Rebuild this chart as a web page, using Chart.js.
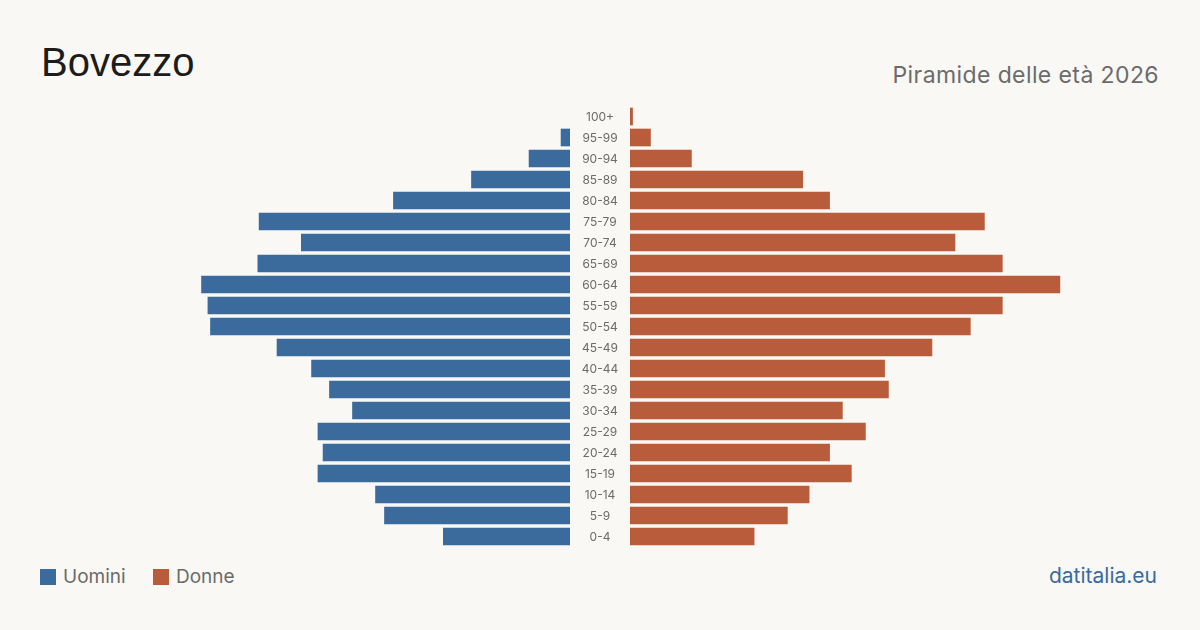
<!DOCTYPE html>
<html>
<head>
<meta charset="utf-8">
<script src="https://cdn.jsdelivr.net/npm/chart.js@4"></script>
<style>
  html, body { margin: 0; padding: 0; }
  body { width: 1200px; height: 630px; background: #f9f8f4; position: relative; overflow: hidden; font-family: Inter, sans-serif; }
  #title { position: absolute; left: 41px; top: 40px; font-size: 40px; color: #1c1c1c; font-family: "Liberation Sans", Arial, sans-serif; }
  #subtitle { position: absolute; right: 41px; top: 61px; font-size: 23px; color: #6b6b6b; letter-spacing: 0.4px; }
  #boxL { position: absolute; left: 135px; top: 106px; width: 435px; height: 441px; }
  #boxR { position: absolute; left: 570px; top: 106px; width: 495px; height: 441px; }
  .legend { position: absolute; top: 565px; font-size: 19px; color: #6b6b6b; }
  .sw { display: inline-block; width: 16px; height: 16px; vertical-align: -2px; margin-right: 7px; }
  #brand { position: absolute; right: 43px; top: 563px; font-size: 21px; color: #3a6b9c; }
</style>
</head>
<body>
<div id="title">Bovezzo</div>
<div id="subtitle">Piramide delle età 2026</div>
<div id="boxL"><canvas id="leftChart"></canvas></div>
<div id="boxR"><canvas id="rightChart"></canvas></div>
<div class="legend" style="left:40px"><span class="sw" style="background:#3a6b9c"></span>Uomini</div>
<div class="legend" style="left:153px"><span class="sw" style="background:#b95c3b"></span>Donne</div>
<div id="brand">datitalia.eu</div>
<script>
const ageGroups = ["100+", "95-99", "90-94", "85-89", "80-84", "75-79", "70-74", "65-69", "60-64", "55-59",
  "50-54", "45-49", "40-44", "35-39", "30-34", "25-29", "20-24", "15-19", "10-14", "5-9", "0-4"];
const uomini = [0, 7, 32, 77, 138, 243, 210, 244, 288, 283, 281, 229, 202, 188, 170, 197, 193, 197, 152, 145, 99];
const donne = [2, 16, 48, 135, 156, 277, 254, 291, 336, 291, 266, 236, 199, 202, 166, 184, 156, 173, 140, 123, 97];
const maxValue = 340;

const blue = "#3a6b9c";
const orange = "#b95c3b";

function baseOptions(reverse) {
  return {
    indexAxis: "y",
    responsive: true,
    maintainAspectRatio: false,
    animation: false,
    layout: { padding: 0 },
    plugins: { legend: { display: false }, tooltip: { enabled: false } },
    scales: {
      x: { min: 0, max: maxValue, reverse: reverse, display: false },
      y: { display: false }
    }
  };
}

// hide empty bars so no hairline shows at the baseline
function barColor(color) {
  return (ctx) => (ctx.raw ? color : "rgba(0,0,0,0)");
}

// draws the age labels centred in the gap left of the women's bars
const ageLabels = {
  id: "ageLabels",
  afterDraw(chart) {
    const { ctx, scales } = chart;
    ctx.save();
    ctx.fillStyle = "#6b6b6b";
    ctx.font = "12px Inter";
    ctx.textAlign = "center";
    ctx.textBaseline = "middle";
    ageGroups.forEach((label, i) => {
      ctx.fillText(label, 30, scales.y.getPixelForValue(i) + 0.5);
    });
    ctx.restore();
  }
};

new Chart(document.getElementById("leftChart"), {
  type: "bar",
  data: {
    labels: ageGroups,
    datasets: [{ label: "Uomini", data: uomini, backgroundColor: barColor(blue), barThickness: 17 }]
  },
  options: baseOptions(true)
});

const rightOpts = baseOptions(false);
rightOpts.layout.padding = { left: 60 };
new Chart(document.getElementById("rightChart"), {
  type: "bar",
  data: {
    labels: ageGroups,
    datasets: [{ label: "Donne", data: donne, backgroundColor: barColor(orange), barThickness: 17 }]
  },
  options: rightOpts,
  plugins: [ageLabels]
});
</script>
</body>
</html>
